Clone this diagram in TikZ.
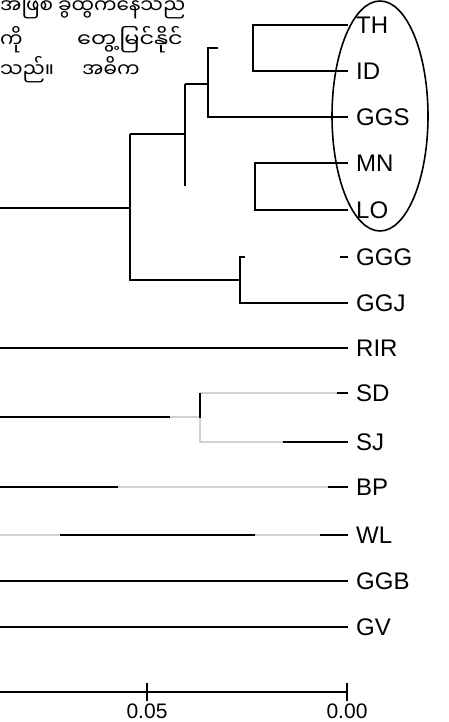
\documentclass[tikz,border=0pt]{standalone}
\usepackage{fontspec}
\setmainfont{Liberation Sans}
\newfontfamily\mya[Script=Myanmar]{Noto Sans Myanmar UI}
\begin{document}
\begin{tikzpicture}[x=1pt,y=-1pt,
  br/.style={line width=1.8pt,black},
  faint/.style={line width=1.2pt,black!18},
  lbl/.style={anchor=west,inner sep=0pt,font=\fontsize{24}{24}\selectfont},
  ax/.style={anchor=base,inner sep=0pt,font=\fontsize{21}{21}\selectfont},
  my/.style={anchor=base west,inner sep=0pt,font=\mya\fontsize{20}{20}\selectfont}]
\useasboundingbox (0,0) rectangle (449,722);
% Burmese text
\node[my] (w1) at (0,13.5) {အဖြစ်};
\node[my] (w2) at (58,13.5) {ခွဲထွက်နေသည်};
\node[my] (w3) at (0,48) {ကို};
\node[my] (w4) at (77,48) {\scalebox{1.12}[1]{တွေ့မြင်နိုင်}};
\node[my] (w5) at (0,78) {သည်။};
\node[my] (w6) at (82,78) {အဓိက};
% tip labels
\foreach \n/\t/\y in {th/TH/25, id/ID/71, ggs/GGS/117, mn/MN/163, lo/LO/210, ggg/GGG/257, ggj/GGJ/303, rir/RIR/348, sd/SD/393, sj/SJ/442, bp/BP/487, wl/WL/535, ggb/GGB/581, gv/GV/627}
  \node[lbl] (\n) at (356,\y) {\t};
% tips
\foreach \n/\y in {th/25, id/71, ggs/117, mn/163, lo/210, ggg/257, ggj/303, rir/348, sd/393, sj/442, bp/487, wl/535, ggb/581, gv/627}
  \coordinate (e\n) at (348,\y);
% internal nodes
\coordinate (a) at (253,25);  \coordinate (a2) at (253,71);
\coordinate (b) at (208,48);  \coordinate (b2) at (208,117);
\coordinate (c) at (185,84);  \coordinate (c2) at (185,186);
\coordinate (d) at (255,163); \coordinate (d2) at (255,210);
\coordinate (f) at (130,134); \coordinate (f2) at (130,280);
\coordinate (g) at (240,257); \coordinate (g2) at (240,303);
\coordinate (s) at (200,393); \coordinate (s2) at (200,442);
% faint parts
\draw[faint] (s) -- (esd);
\draw[faint] (s) -- (s2) -- (esj);
\draw[faint] (0,417) -- (s |- 0,417);
\draw[faint] (0,487) -- (ebp);
\draw[faint] (0,535) -- (ewl);
% clades
\draw[br] (eth) -- (a) -- (a2) -- (eid);
\draw[br] (218,48) -- (b) -- (b2) -- (eggs);
\draw[br] (c |- 0,84) -- (b |- 0,84);
\draw[br] (c) -- (c2);
\draw[br] (emn) -- (d) -- (d2) -- (elo);
\draw[br] (f |- 0,134) -- (c |- 0,134);
\draw[br] (f) -- (f2) -- (g |- 0,280);
\draw[br] (245,257) -- (g) -- (g2) -- (eggj);
\draw[br] (340,257) -- (eggg);
\draw[br] (0,208) -- (130,208);
\draw[br] (0,348) -- (erir);
\draw[br] (337,393) -- (esd);
\draw[br] (s) -- (200,418);
\draw[br] (0,417) -- (170,417);
\draw[br] (283,442) -- (esj);
\draw[br] (0,487) -- (118,487);
\draw[br] (328,487) -- (ebp);
\draw[br] (60,535) -- (255,535);
\draw[br] (320,535) -- (ewl);
\draw[br] (0,581) -- (eggb);
\draw[br] (0,627) -- (egv);
% ellipse
\draw[line width=1.6pt] (380,116) ellipse [x radius=48, y radius=115];
% axis
\draw[br] (0,692) -- (347,692);
\draw[br] (147,683) -- (147,701);
\draw[br] (347,683) -- (347,701);
\node[ax] (l5) at (147,718.5) {0.05};
\node[ax] (l0) at (347,718.5) {0.00};
\end{tikzpicture}
\end{document}
